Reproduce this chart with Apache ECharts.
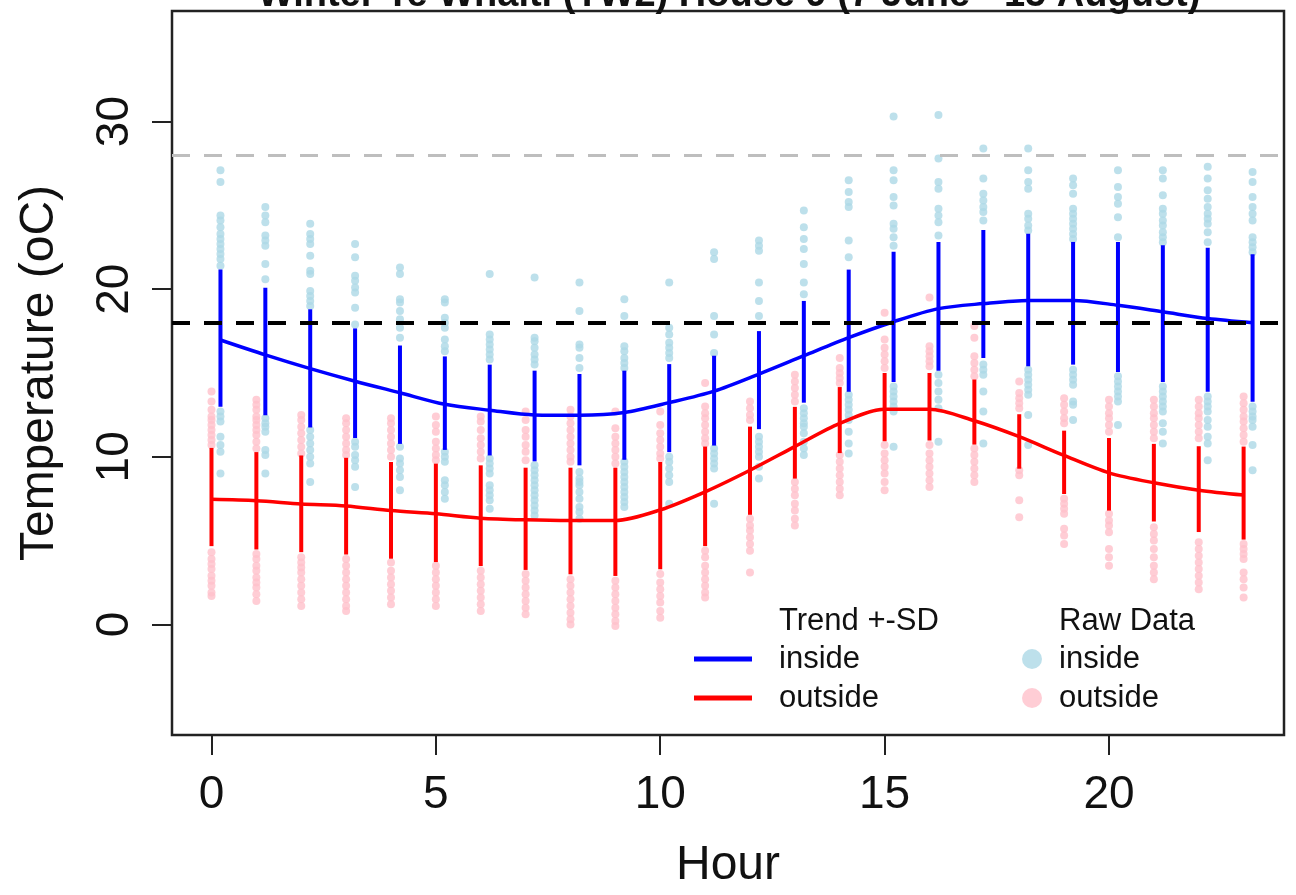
<!DOCTYPE html>
<html>
<head>
<meta charset="utf-8">
<script src="https://cdn.jsdelivr.net/npm/echarts@6/dist/echarts.min.js"></script>
<style>html,body{margin:0;padding:0;background:#fff}#chart{width:1296px;height:895px}</style>
</head>
<body>
<div id="chart"></div>
<script>
// ---------------- DATA ----------------
const hours = [0,1,2,3,4,5,6,7,8,9,10,11,12,13,14,15,16,17,18,19,20,21,22,23];
const xTicks = [0, 5, 10, 15, 20];
const yTicks = [0, 10, 20, 30];
const refLines = [28, 18];

const insideTrend = [16.97,16.08,15.26,14.51,13.82,13.13,12.78,12.5,12.48,12.64,13.23,13.92,14.94,16.03,17.11,18.06,18.84,19.14,19.33,19.33,19.04,18.65,18.25,18.0];
const insideHigh  = [21.17,20.08,18.8,17.66,16.64,15.99,15.5,15.14,14.94,15.14,15.53,16.03,17.5,19.3,21.17,22.23,22.82,23.53,23.31,22.82,22.82,22.62,22.48,22.09];
const insideLow   = [12.98,12.48,11.75,11.12,10.77,10.41,10.08,9.73,9.49,9.82,10.28,10.67,11.65,13.23,13.88,14.47,15.14,15.89,15.4,15.5,15.06,14.47,13.88,13.29];

const outsideTrend = [7.46,7.38,7.19,7.07,6.79,6.6,6.34,6.24,6.2,6.2,6.83,7.91,9.2,10.61,11.99,12.84,12.84,12.15,11.2,10.08,9.04,8.45,8.01,7.72];
const outsideHigh  = [10.53,10.28,10.08,9.94,9.69,9.59,9.49,9.35,9.35,9.35,9.69,10.61,11.8,12.98,14.16,15.0,15.0,14.61,12.54,11.56,11.12,10.77,10.63,10.61];
const outsideLow   = [4.67,4.47,4.31,4.17,3.92,3.72,3.48,3.25,2.99,2.89,3.29,4.67,6.54,8.7,10.22,10.93,10.97,10.73,9.29,7.78,6.79,6.14,5.51,5.06];

const insideRaw = [
  [27.1,26.4,24.4,24.1,23.7,23.3,23.0,22.7,22.4,22.1,21.8,21.4,12.7,12.4,12.1,11.2,10.7,10.3,9.0],
  [24.9,24.4,24.0,23.2,22.9,22.6,21.5,20.6,12.3,12.0,11.8,11.5,10.4,10.1,9.0],
  [23.9,23.3,23.0,22.7,22.0,21.1,20.9,19.9,19.6,19.3,19.0,11.6,11.2,10.8,10.4,10.0,9.6,8.5],
  [22.7,21.9,20.8,20.5,20.1,19.8,18.9,17.9,10.9,10.6,10.1,9.8,9.4,8.2],
  [21.3,20.9,19.4,19.2,18.7,18.2,17.7,17.1,10.6,9.9,9.6,9.2,8.8,8.0],
  [19.4,19.2,18.3,18.0,17.7,17.0,16.6,16.3,10.3,10.0,9.7,8.6,8.3,7.9,7.5],
  [20.9,17.3,17.0,16.7,16.4,16.1,15.8,9.9,9.6,9.3,9.0,8.3,8.0,7.7,7.4,6.9],
  [20.7,17.1,16.9,16.5,16.1,15.8,15.5,9.5,9.2,8.9,8.6,8.3,8.0,7.7,7.4,7.1,6.8,6.5],
  [20.4,18.7,16.7,16.5,15.9,15.3,9.1,8.7,8.5,8.3,7.9,7.5,7.0,6.7,6.3],
  [19.4,18.4,16.6,16.3,15.9,15.6,15.3,9.7,9.4,9.1,8.8,8.5,8.2,7.9,7.6,7.3,7.0],
  [20.4,17.7,17.3,16.8,16.5,16.2,15.9,10.0,9.7,9.3,8.9,8.5,7.2],
  [22.2,21.8,18.4,17.3,16.2,10.5,10.2,9.9,9.6,9.3,7.2],
  [22.9,22.6,22.3,20.4,19.3,18.4,11.2,10.9,10.6,10.3,10.0,9.4,8.7],
  [24.7,23.7,23.0,22.4,21.5,20.4,19.7,12.9,12.6,12.3,12.0,11.8,11.4,10.9,10.5,10.1],
  [26.5,25.8,25.2,24.9,22.9,21.9,13.7,13.4,13.1,12.8,12.5,12.2,11.5,10.8,10.2],
  [30.3,27.1,26.5,25.5,25.0,23.9,23.6,23.1,22.6,14.2,13.9,13.6,13.3,13.0,12.7,10.6],
  [30.4,27.8,26.4,26.0,24.8,24.4,24.0,23.2,14.9,14.4,13.9,13.4,12.9,10.9],
  [28.4,26.6,25.7,25.3,24.9,24.6,24.1,15.5,15.2,14.9,13.9,12.7,10.8],
  [28.4,27.1,26.4,26.0,24.5,24.2,23.8,23.5,15.2,14.9,14.6,14.3,14.0,13.7,12.5,10.7],
  [26.6,26.2,25.7,24.8,24.5,24.2,23.9,23.6,23.3,23.0,15.2,14.9,14.6,14.3,13.3,13.1,12.2],
  [27.1,26.1,25.5,25.1,24.3,23.1,14.8,14.5,14.2,13.9,13.6,13.3,11.9],
  [27.1,26.6,25.6,24.8,24.5,24.1,23.8,23.4,23.1,22.8,14.2,13.9,13.6,13.3,13.0,12.7,12.0,11.5,10.8],
  [27.3,26.6,25.9,25.4,24.9,24.5,24.2,23.9,23.4,22.8,13.6,13.3,13.0,12.7,12.2,11.8,11.2,10.8,9.8],
  [27.0,26.4,25.5,24.9,24.5,24.1,23.1,22.8,22.5,22.2,13.0,12.7,12.4,12.2,11.8,10.7,9.2]
];

const outsideRaw = [
  [13.9,13.3,12.8,12.4,12.2,11.9,11.6,11.3,11.0,10.7,4.3,3.9,3.6,3.3,2.9,2.6,2.3,1.9,1.7],
  [13.4,13.1,12.8,12.4,12.2,11.9,11.6,11.3,10.9,10.5,4.2,3.9,3.5,3.2,2.8,2.5,2.2,1.8,1.4],
  [12.5,12.2,11.8,11.4,11.0,10.6,10.2,4.0,3.7,3.4,3.1,2.7,2.3,1.9,1.5,1.1],
  [12.3,12.0,11.6,11.2,10.8,10.4,10.1,3.9,3.5,3.1,2.7,2.3,1.9,1.5,1.1,0.8],
  [12.3,12.0,11.6,11.2,10.8,10.4,10.0,3.7,3.2,2.8,2.4,2.0,1.6,1.2],
  [12.4,11.9,11.5,10.9,10.5,10.1,9.8,3.5,3.1,2.7,2.3,1.9,1.5,1.1],
  [12.4,12.1,11.6,11.1,10.7,10.3,9.9,3.2,2.8,2.4,2.0,1.6,1.2,0.8],
  [12.7,12.2,11.6,11.2,10.7,10.3,9.8,3.0,2.6,2.2,1.8,1.4,1.0,0.6],
  [12.8,12.4,12.0,11.6,11.2,10.8,10.4,10.0,9.7,2.7,2.3,1.9,1.5,1.1,0.7,0.3,0.0],
  [12.7,11.7,11.2,10.8,10.4,10.0,9.6,2.6,2.2,1.8,1.4,1.0,0.6,0.2,-0.1],
  [12.7,11.9,11.4,11.0,10.6,10.2,9.9,3.0,2.5,2.1,1.7,1.3,0.8,0.4],
  [14.4,13.0,12.6,12.3,11.9,11.5,11.1,10.8,4.4,4.0,3.5,3.1,2.7,2.3,1.9,1.6],
  [13.3,12.9,12.5,12.2,6.3,5.9,5.6,5.2,4.8,4.4,3.1],
  [14.9,14.5,14.1,13.7,13.3,8.5,8.1,7.7,7.2,6.8,6.3,5.9],
  [15.9,15.3,15.0,14.7,14.4,10.1,9.7,9.3,8.9,8.5,8.1,7.7],
  [18.6,17.0,16.5,16.1,15.7,15.3,10.7,10.2,9.8,9.4,9.0,8.5,8.0],
  [19.5,16.6,16.3,16.0,15.7,15.4,10.7,10.2,9.8,9.4,9.0,8.6,8.2],
  [17.8,17.1,16.0,15.6,15.2,14.8,10.5,10.1,9.7,9.3,8.9,8.5],
  [14.5,13.8,13.5,13.2,12.9,9.2,8.9,7.4,6.4],
  [13.5,13.1,12.7,12.3,12.0,7.5,7.2,6.9,6.6,5.7,5.3,4.8],
  [13.4,13.0,12.6,12.3,11.9,11.5,6.6,6.2,5.9,5.5,4.5,4.0,3.5],
  [13.4,13.0,12.6,12.3,11.9,11.5,11.1,5.8,5.4,5.0,4.5,4.0,3.5,3.1,2.7],
  [13.4,13.0,12.6,12.3,11.9,11.5,11.1,4.9,4.5,4.1,3.7,3.3,2.9,2.5,2.1],
  [13.6,13.2,12.8,12.4,12.1,11.7,11.3,10.9,4.8,4.5,4.2,3.9,3.1,2.7,2.2,1.6]
];

// ---------------- BUILD ----------------
const insideShift = 0.2;   // inside series drawn slightly right of the hour
const FONT = 'Liberation Sans, Arial, sans-serif';

function rawPoints(raw, shift) {
  const out = [];
  raw.forEach((vals, i) => vals.forEach(v => out.push([hours[i] + shift, v])));
  return out;
}
function barData(lo, hi, shift) {
  return hours.map((h, i) => [h + shift, lo[i], hi[i]]);
}
function trendData(tr, shift) {
  return hours.map((h, i) => [h + shift, tr[i]]);
}
function barRenderer(color) {
  return function (params, api) {
    const x = api.value(0);
    const p1 = api.coord([x, api.value(1)]);
    const p2 = api.coord([x, api.value(2)]);
    return { type: 'line', shape: { x1: p1[0], y1: p1[1], x2: p2[0], y2: p2[1] },
             style: { stroke: color, lineWidth: 4 } };
  };
}

const chart = echarts.init(document.getElementById('chart'), null, { renderer: 'canvas' });

const option = {
  animation: false,
  backgroundColor: '#ffffff',
  textStyle: { fontFamily: FONT },
  title: {
    text: 'Winter Te Whaiti (TW2) House 9 (7 June - 15 August)',
    left: 729, textAlign: 'center', top: -23, padding: 0,
    textStyle: { fontFamily: FONT, fontSize: 38, fontWeight: 'bold', color: '#111' }
  },
  grid: {
    left: 172, top: 11, right: 12, bottom: 155,
    show: true, borderColor: '#222', borderWidth: 2.5, backgroundColor: 'transparent'
  },
  xAxis: {
    type: 'value', min: -0.88, max: 23.9,
    name: 'Hour', nameLocation: 'middle', nameGap: 107,
    nameTextStyle: { fontFamily: FONT, fontSize: 48, color: '#111' },
    axisLine: { show: false, onZero: false },
    axisTick: { show: true, inside: false, length: 20, customValues: xTicks, lineStyle: { color: '#222', width: 2 } },
    axisLabel: { customValues: xTicks, fontFamily: FONT, fontSize: 46, color: '#111', margin: 37 },
    splitLine: { show: false }
  },
  yAxis: {
    type: 'value', min: -6.6, max: 36.6,
    name: 'Temperature (oC)', nameLocation: 'middle', nameGap: 108,
    nameTextStyle: { fontFamily: FONT, fontSize: 48, color: '#111' },
    axisLine: { show: false, onZero: false },
    axisTick: { show: true, inside: false, length: 20, customValues: yTicks, lineStyle: { color: '#222', width: 2 } },
    axisLabel: { customValues: yTicks, rotate: 90, fontFamily: FONT, fontSize: 46, color: '#111', margin: 34 },
    splitLine: { show: false }
  },
  legend: [
    {
      data: [{ name: 'Trend inside', icon: 'rect' }, { name: 'Trend outside', icon: 'rect' }],
      orient: 'vertical', left: 694, top: 642, padding: 0,
      itemWidth: 58, itemHeight: 5, itemGap: 5, selectedMode: false,
      formatter: n => n.replace('Trend ', ''),
      textStyle: { fontFamily: FONT, fontSize: 31, color: '#111', lineHeight: 34, padding: [0, 0, 0, 22] }
    },
    {
      data: [{ name: 'Raw inside', icon: 'circle' }, { name: 'Raw outside', icon: 'circle' }],
      orient: 'vertical', left: 1022, top: 642, padding: 0,
      itemWidth: 20, itemHeight: 20, itemGap: 5, selectedMode: false,
      formatter: n => n.replace('Raw ', ''),
      textStyle: { fontFamily: FONT, fontSize: 31, color: '#111', lineHeight: 34, padding: [0, 0, 0, 12] }
    }
  ],
  graphic: [
    { type: 'text', x: 779, y: 621, silent: true,
      style: { text: 'Trend +-SD', font: '31px ' + FONT, fill: '#111', align: 'left', verticalAlign: 'middle' } },
    { type: 'text', x: 1059, y: 621, silent: true,
      style: { text: 'Raw Data', font: '31px ' + FONT, fill: '#111', align: 'left', verticalAlign: 'middle' } }
  ],
  series: [
    { name: 'Raw outside', type: 'scatter', data: rawPoints(outsideRaw, 0),
      symbol: 'circle', symbolSize: 8, itemStyle: { color: '#FFC0CB' }, color: '#FFC0CB', z: 1, silent: true },
    { name: 'Raw inside', type: 'scatter', data: rawPoints(insideRaw, insideShift),
      symbol: 'circle', symbolSize: 8, itemStyle: { color: '#ADD8E6' }, color: '#ADD8E6', z: 1, silent: true },
    { name: 'SD outside', type: 'custom', data: barData(outsideLow, outsideHigh, 0),
      encode: { x: 0, y: [1, 2] }, renderItem: barRenderer('#FF0000'), z: 3, silent: true },
    { name: 'SD inside', type: 'custom', data: barData(insideLow, insideHigh, insideShift),
      encode: { x: 0, y: [1, 2] }, renderItem: barRenderer('#0000FF'), z: 3, silent: true },
    { name: 'Trend outside', type: 'line', data: trendData(outsideTrend, 0), color: '#FF0000',
      smooth: 0.3, showSymbol: false, symbol: 'none', lineStyle: { color: '#FF0000', width: 3.5 }, z: 4, silent: true },
    { name: 'Trend inside', type: 'line', data: trendData(insideTrend, insideShift), color: '#0000FF',
      smooth: 0.3, showSymbol: false, symbol: 'none', lineStyle: { color: '#0000FF', width: 3.5 }, z: 4, silent: true },
    { name: 'refs', type: 'line', data: [], z: 5, silent: true,
      markLine: {
        silent: true, symbol: ['none', 'none'], label: { show: false }, animation: false,
        data: [
          { yAxis: refLines[0], lineStyle: { color: '#BEBEBE', width: 3, type: [18, 14] } },
          { yAxis: refLines[1], lineStyle: { color: '#000000', width: 4, type: [18, 14] } }
        ]
      } }
  ]
};
chart.setOption(option);
</script>
</body>
</html>
